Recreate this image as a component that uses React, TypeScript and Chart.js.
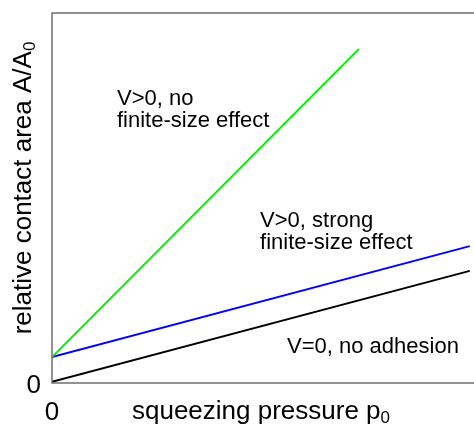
import React, { useEffect, useRef } from "react";
import { Chart, registerables } from "chart.js";

Chart.register(...registerables);

const pressure = [0, 0.7275];
const greenArea = [0.07, 0.903];
const pressureLong = [0, 0.99];
const blueArea = [0.07, 0.37];
const blackArea = [0.003, 0.303];

const annotations = [
  { lines: ["V>0, no", "finite-size effect"], x: 0.154, y: 0.752 },
  { lines: ["V>0, strong", "finite-size effect"], x: 0.493, y: 0.422 },
  { lines: ["V=0, no adhesion"], x: 0.557, y: 0.081 },
];

const FONT = "'Liberation Sans', Arial, Helvetica, sans-serif";

const textPlugin = {
  id: "textPlugin",
  afterDraw(chart: any) {
    const ctx = chart.ctx as CanvasRenderingContext2D;
    const { left, top, right, bottom } = chart.chartArea;
    const xs = chart.scales.x;
    const ys = chart.scales.y;
    ctx.save();
    // frame
    ctx.strokeStyle = "#6e6e6e";
    ctx.lineWidth = 1.5;
    ctx.beginPath();
    ctx.moveTo(right, top);
    ctx.lineTo(left, top);
    ctx.lineTo(left, bottom);
    ctx.lineTo(right, bottom);
    ctx.stroke();

    ctx.fillStyle = "#000";
    // annotations
    ctx.font = `22px ${FONT}`;
    ctx.textAlign = "left";
    ctx.textBaseline = "alphabetic";
    for (const a of annotations) {
      const px = xs.getPixelForValue(a.x);
      const py = ys.getPixelForValue(a.y);
      a.lines.forEach((l, i) => ctx.fillText(l, px, py + i * 22));
    }
    // zero ticks
    ctx.font = `26px ${FONT}`;
    ctx.textAlign = "right";
    ctx.fillText("0", left - 11, ys.getPixelForValue(0) + 10);
    ctx.textAlign = "center";
    ctx.fillText("0", xs.getPixelForValue(0), bottom + 37);

    // title with subscript
    const drawSub = (main: string, sub: string, cx: number, cy: number) => {
      ctx.font = `26px ${FONT}`;
      const w1 = ctx.measureText(main).width;
      ctx.font = `17px ${FONT}`;
      const w2 = ctx.measureText(sub).width;
      const start = cx - (w1 + w2) / 2;
      ctx.textAlign = "left";
      ctx.font = `26px ${FONT}`;
      ctx.fillText(main, start, cy);
      ctx.font = `17px ${FONT}`;
      ctx.fillText(sub, start + w1, cy + 4);
    };
    drawSub("squeezing pressure p", "0", 261, 419);

    ctx.save();
    ctx.translate(31, 188);
    ctx.rotate(-Math.PI / 2);
    drawSub("relative contact area A/A", "0", 0, 0);
    ctx.restore();
    ctx.restore();
  },
};

export default function App() {
  const ref = useRef<HTMLCanvasElement>(null);
  useEffect(() => {
    document.body.style.margin = "0";
    const toPts = (xs: number[], ys: number[]) => xs.map((x, i) => ({ x, y: ys[i] }));
    const chart = new Chart(ref.current!, {
      type: "scatter",
      data: {
        datasets: [
          { data: toPts(pressure, greenArea), borderColor: "#00ee00", borderWidth: 2, showLine: true, pointRadius: 0 },
          { data: toPts(pressureLong, blueArea), borderColor: "#0000ff", borderWidth: 2, showLine: true, pointRadius: 0 },
          { data: toPts(pressureLong, blackArea), borderColor: "#000000", borderWidth: 2, showLine: true, pointRadius: 0 },
        ],
      },
      options: {
        responsive: false,
        animation: false,
        layout: { padding: { left: 52, top: 13, right: 0, bottom: 42 } },
        plugins: { legend: { display: false }, tooltip: { enabled: false } },
        scales: {
          x: { type: "linear", min: 0, max: 1, display: false },
          y: { type: "linear", min: 0, max: 1, display: false },
        },
      },
      plugins: [textPlugin],
    });
    return () => chart.destroy();
  }, []);
  return <canvas ref={ref} width={474} height={425} style={{ display: "block" }} />;
}
